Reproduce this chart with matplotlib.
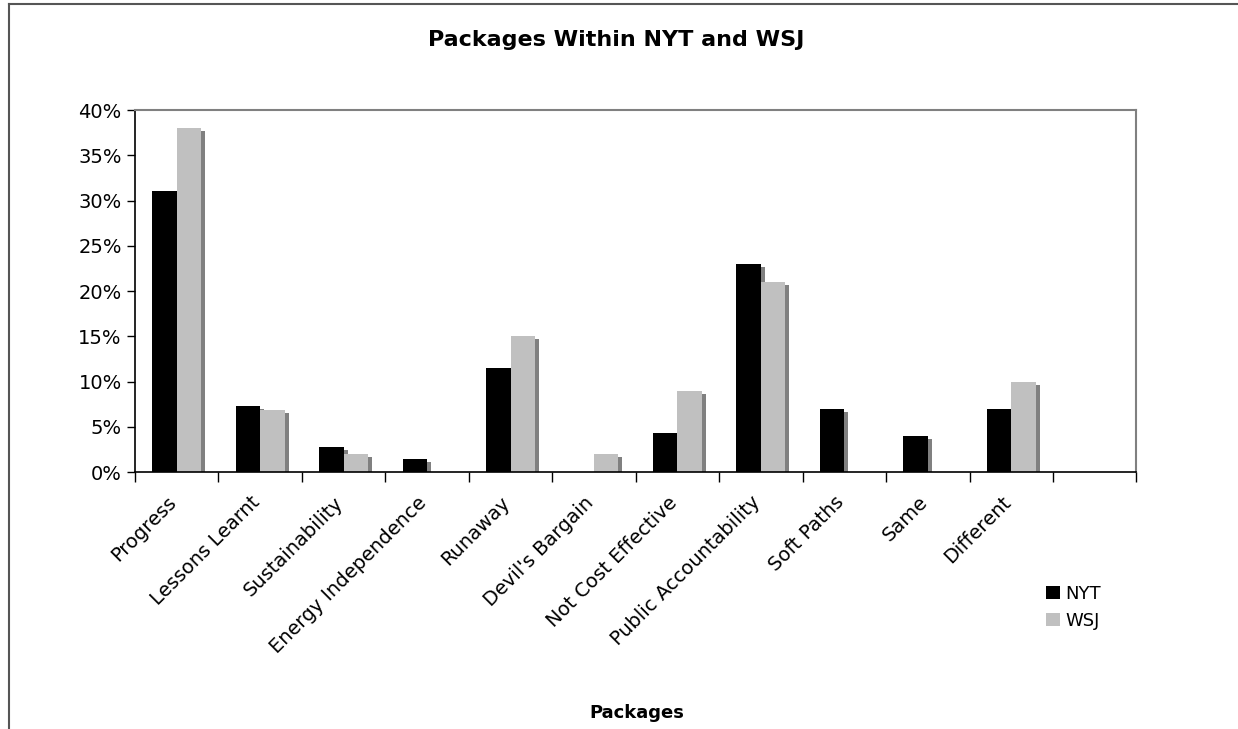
#!/usr/bin/env python3
"""Packages within NYT and WSJ - grouped bar chart."""
import matplotlib

matplotlib.use("Agg")
import matplotlib.pyplot as plt
import matplotlib.transforms as mtransforms
import numpy as np
from matplotlib.lines import Line2D
from matplotlib.patches import Patch
from matplotlib.ticker import FuncFormatter

categories = [
    "Progress", "Lessons Learnt", "Sustainability", "Energy Independence",
    "Runaway", "Devil's Bargain", "Not Cost Effective", "Public Accountability",
    "Soft Paths", "Same", "Different", "",
]
nyt = [31.1, 7.3, 2.8, 1.4, 11.5, 0.0, 4.3, 23.0, 7.0, 4.0, 7.0, 0.0]
wsj = [38.0, 6.9, 2.0, 0.0, 15.0, 2.0, 9.0, 21.0, 0.0, 0.0, 10.0, 0.0]
series_names = ["NYT", "WSJ"]
y_ticks = [0, 5, 10, 15, 20, 25, 30, 35, 40]

plt.rcParams["font.family"] = "DejaVu Sans"

fig = plt.figure(figsize=(12.38, 7.29), dpi=100)
ax = fig.add_axes([0.109, 0.3525, 0.809, 0.4965])

n = len(categories)
centers = np.arange(n) + 0.5
w = 0.293
dx, dy = 0.048, 0.33  # shadow offset

nyt_a = np.array(nyt)
wsj_a = np.array(wsj)
for vals, off in ((nyt_a, -w / 2), (wsj_a, w / 2)):
    sh = np.where(vals > 0, np.clip(vals - dy, 0, None), 0)
    ax.bar(centers + off + dx, sh, width=w, color="#808080", zorder=1, linewidth=0)
ax.bar(centers - w / 2, nyt_a, width=w, color="black", zorder=2, linewidth=0)
ax.bar(centers + w / 2, wsj_a, width=w, color="#c0c0c0", zorder=2, linewidth=0)

ax.set_xlim(0, n)
ax.set_ylim(0, 40)
ax.set_yticks(y_ticks)
ax.yaxis.set_major_formatter(FuncFormatter(lambda v, _: f"{v:.0f}%"))
ax.tick_params(axis="y", direction="out", length=6, width=1, labelsize=14, pad=3.5)

ax.set_xticks(np.arange(n + 1))
ax.set_xticklabels([])
ax.tick_params(axis="x", which="major", direction="out", length=7, width=1)
ax.set_xticks(centers, minor=True)
ax.set_xticklabels(categories, minor=True, rotation=45, ha="right",
                   rotation_mode="anchor", fontsize=14)
ax.tick_params(axis="x", which="minor", length=0, pad=15)
shift = mtransforms.ScaledTranslation(-0.10, 0, fig.dpi_scale_trans)
for lab in ax.get_xticklabels(minor=True):
    lab.set_transform(lab.get_transform() + shift)

for s in ("top", "right"):
    ax.spines[s].set_color("#808080")
    ax.spines[s].set_linewidth(1.5)
for s in ("left", "bottom"):
    ax.spines[s].set_color("black")
    ax.spines[s].set_linewidth(1.2)

fig.text(0.4975, 0.945, "Packages Within NYT and WSJ", ha="center", va="center",
         fontsize=16, fontweight="bold")
fig.text(0.514, 0.022, "Packages", ha="center", va="center",
         fontsize=13, fontweight="bold")

handles = [Patch(facecolor="black", label=series_names[0]),
           Patch(facecolor="#c0c0c0", label=series_names[1])]
fig.legend(handles=handles, loc="upper left", bbox_to_anchor=(0.845, 0.198),
           frameon=False, fontsize=13, handlelength=0.78, handleheight=0.78,
           handletextpad=0.3, labelspacing=0.5, borderpad=0, borderaxespad=0)

# outer chart-area border (top and left edges visible)
fig.add_artist(Line2D([0.0072, 1.0], [0.994, 0.994], color="#555555", lw=1.5,
                      transform=fig.transFigure))
fig.add_artist(Line2D([0.0072, 0.0072], [0.0, 0.994], color="#555555", lw=1.5,
                      transform=fig.transFigure))

fig.savefig("out.png", dpi=100, facecolor="white")
